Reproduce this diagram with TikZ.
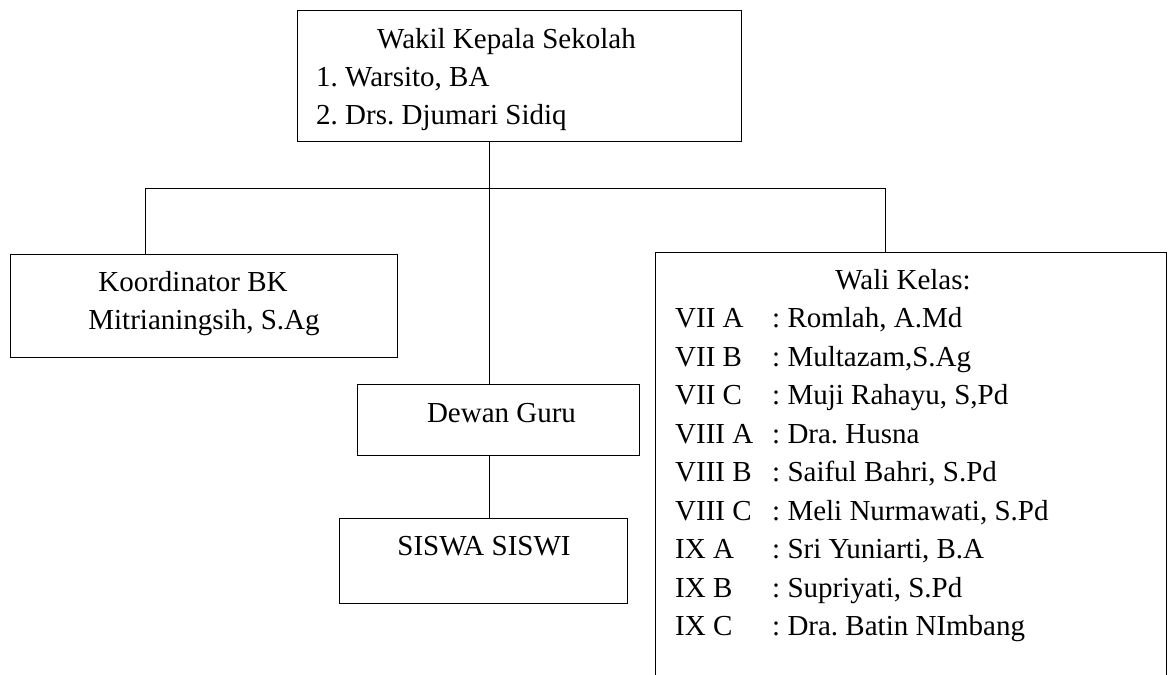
\documentclass[tikz,border=0pt]{standalone}
\usepackage{fontspec}
\setmainfont{Liberation Serif}
\frenchspacing
\begin{document}
\begin{tikzpicture}[x=1pt,y=-1pt,
    every node/.append style={font=\fontsize{29}{38}\selectfont},
    box/.style={draw,line width=1pt,inner sep=0pt},
    txt/.style={anchor=base,inner sep=0pt},
    link/.style={line width=1pt}]
    \path[use as bounding box,clip] (0,0) rectangle (1168,675);
    % kotak
    \node[box,minimum width=444pt,minimum height=131pt] (wakil) at (519,75.5) {};
    \node[box,minimum width=387pt,minimum height=103pt] (bk) at (203.5,305.5) {};
    \node[box,minimum width=282pt,minimum height=71pt] (guru) at (498,419.5) {};
    \node[box,minimum width=288pt,minimum height=85pt] (siswa) at (483,560.5) {};
    \node[box,minimum width=511pt,minimum height=448pt] (wali) at (910.5,476) {};
    % teks
    \node[txt,anchor=base west] (wakilT) at (377,48) {Wakil Kepala Sekolah};
    \node[txt,anchor=base west] (wakil1) at (316,86) {1. Warsito, BA};
    \node[txt,anchor=base west] (wakil2) at (316,124) {2. Drs. Djumari Sidiq};
    \node[txt] (bkT) at (193,291) {Koordinator BK};
    \node[txt] (bkN) at (204,329) {Mitrianingsih, S.Ag};
    \node[txt] (guruT) at (501.5,422) {Dewan Guru};
    \node[txt] (siswaT) at (484,555) {SISWA SISWI};
    \node[txt] (waliT) at (903,289) {Wali Kelas:};
    \foreach \kls/\nama [count=\i] in {VII A/{Romlah, A.Md},
        VII B/{Multazam,S.Ag}, VII C/{Muji Rahayu, S,Pd},
        VIII A/{Dra. Husna}, VIII B/{Saiful Bahri, S.Pd},
        VIII C/{Meli Nurmawati, S.Pd}, IX A/{Sri Yuniarti, B.A},
        IX B/{Supriyati, S.Pd}, IX C/{Dra. Batin NImbang}}{
        \node[txt,anchor=base west] (kls\i) at (675,289+38.5*\i) {\kls};
        \node[txt,anchor=base west] (nama\i) at (772,289+38.5*\i) {: \nama};
    }
    % garis
    \coordinate (hub) at (489,188);
    \coordinate (kiri) at (145,188);
    \coordinate (kanan) at (885,188);
    \draw[link] (hub |- wakil.south) -- (hub |- guru.north);
    \draw[link] (kiri |- bk.north) -- (kiri) -- (kanan) -- (kanan |- wali.north);
    \draw[link] (hub |- guru.south) -- (hub |- siswa.north);
\end{tikzpicture}
\end{document}
